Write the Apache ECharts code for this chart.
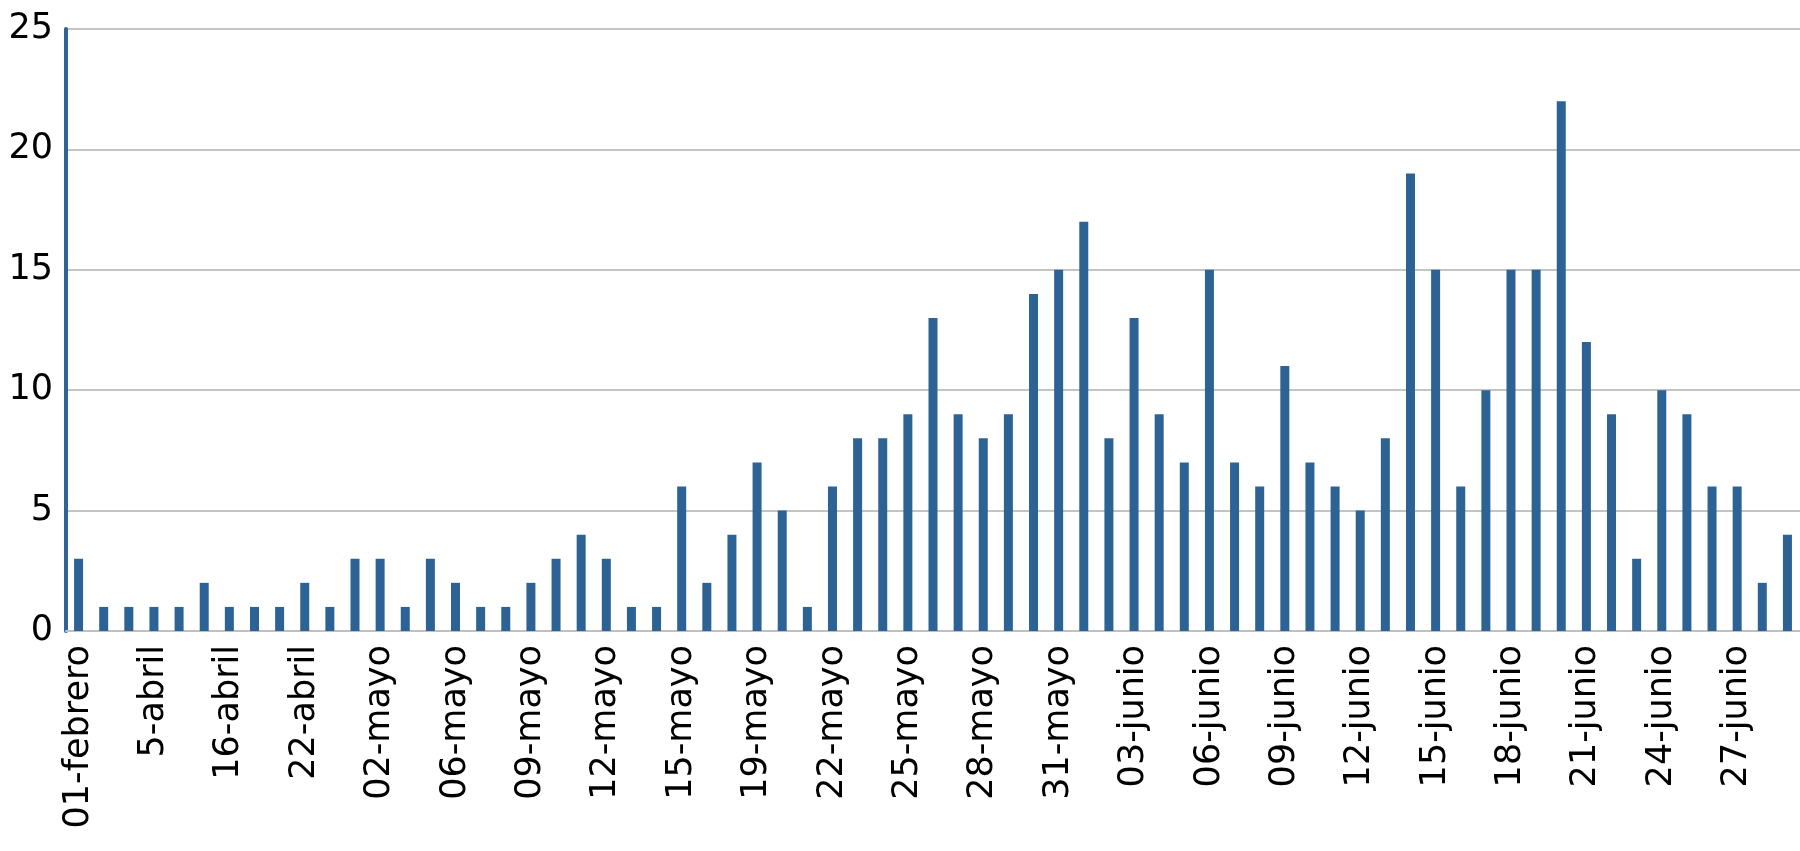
<!DOCTYPE html>
<html>
<head>
<meta charset="utf-8">
<script src="https://cdn.jsdelivr.net/npm/echarts@6/dist/echarts.min.js"></script>
<style>
html,body{margin:0;padding:0;background:#fff;}
#chart{width:1800px;height:851px;}
</style>
</head>
<body>
<div id="chart"></div>
<script>
const categories = [
  "01-febrero","02-febrero","03-febrero","5-abril","8-abril","10-abril",
  "16-abril","17-abril","19-abril","22-abril","25-abril","29-abril",
  "02-mayo","03-mayo","04-mayo","06-mayo","07-mayo","08-mayo",
  "09-mayo","10-mayo","11-mayo","12-mayo","13-mayo","14-mayo",
  "15-mayo","17-mayo","18-mayo","19-mayo","20-mayo","21-mayo",
  "22-mayo","23-mayo","24-mayo","25-mayo","26-mayo","27-mayo",
  "28-mayo","29-mayo","30-mayo","31-mayo","01-junio","02-junio",
  "03-junio","04-junio","05-junio","06-junio","07-junio","08-junio",
  "09-junio","10-junio","11-junio","12-junio","13-junio","14-junio",
  "15-junio","16-junio","17-junio","18-junio","19-junio","20-junio",
  "21-junio","22-junio","23-junio","24-junio","25-junio","26-junio",
  "27-junio","28-junio","29-junio"
];
const values = [
  3,1,1,1,1,2,
  1,1,1,2,1,3,
  3,1,3,2,1,1,
  2,3,4,3,1,1,
  6,2,4,7,5,1,
  6,8,8,9,13,9,
  8,9,14,15,17,8,
  13,9,7,15,7,6,
  11,7,6,5,8,19,
  15,6,10,15,15,22,
  12,9,3,10,9,6,
  6,2,4
];
const yTicks = [0,5,10,15,20,25];

const chart = echarts.init(document.getElementById('chart'));
chart.setOption({
  animation: false,
  grid: { left: 66, right: 0, top: 29, bottom: 220, containLabel: false },
  xAxis: {
    type: 'category',
    data: categories,
    axisLine: { show: true, lineStyle: { color: '#c0c0c0', width: 2 } },
    axisTick: { show: false },
    axisLabel: {
      interval: 2, rotate: 90, margin: 14,
      color: '#000', fontSize: 35, fontFamily: 'DejaVu Sans'
    }
  },
  yAxis: {
    type: 'value',
    min: yTicks[0], max: yTicks[yTicks.length-1], interval: 5,
    axisLine: { show: true, lineStyle: { color: '#2f6596', width: 4 } },
    axisTick: { show: false },
    splitLine: { show: true, lineStyle: { color: '#c4c4c4', width: 2 } },
    axisLabel: { margin: 13, color: '#000', fontSize: 35, fontFamily: 'DejaVu Sans' }
  },
  series: [{
    type: 'bar',
    data: values,
    barWidth: 9,
    itemStyle: { color: '#2c6394' }
  }]
});
</script>
</body>
</html>
